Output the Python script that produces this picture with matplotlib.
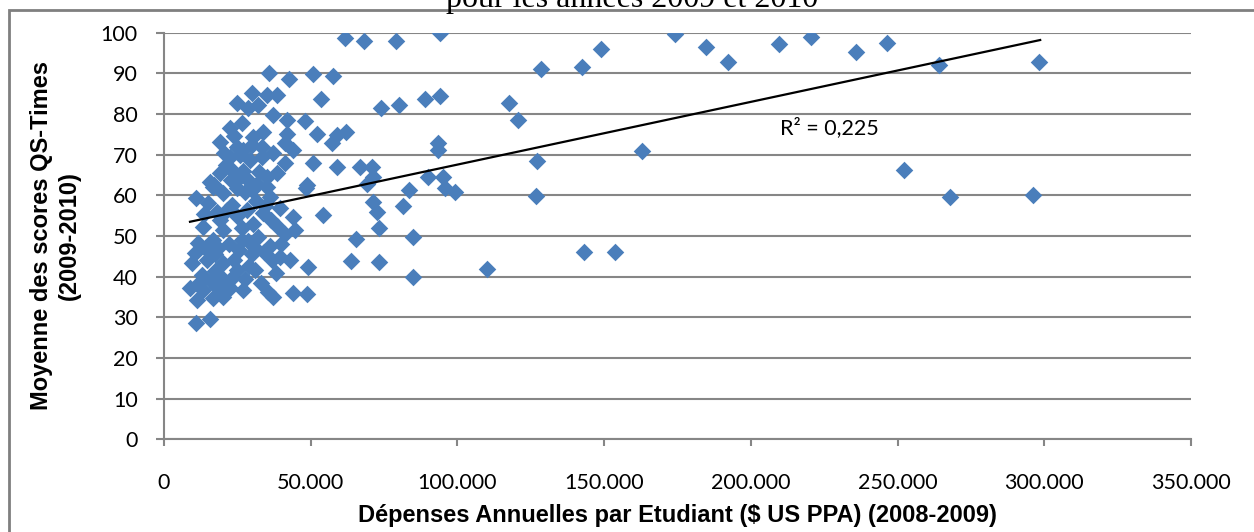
import numpy as np
import matplotlib
matplotlib.use("Agg")
import matplotlib.pyplot as plt
from matplotlib.ticker import FuncFormatter
from matplotlib.patches import Rectangle

# spending per student (thousands of $ US PPA) and mean QS-Times score
spend_k = [
    128.4, 142.3, 148.8, 174.0, 184.7, 192.3, 209.5, 220.4, 235.7, 246.5, 264.2, 298.3, 252.3, 267.9, 296.0,
    117.5, 120.5, 127.2, 126.8, 163.0, 143.1, 153.6,
    61.7, 68.3, 79.0, 94.2, 57.7, 73.9, 80.1, 88.8, 94.2, 61.9, 59.1, 57.1, 93.5, 93.5, 58.8, 66.8, 70.8,
    69.1, 71.3, 90.1, 95.2, 95.8, 99.2, 83.6, 81.6, 71.3, 72.7, 73.3, 65.4, 85.0, 63.7, 73.3, 85.0, 110.0,
    35.7, 42.6, 50.7, 53.4, 29.9, 35.0, 38.6, 24.8, 32.2, 28.7, 37.3, 41.8, 48.1, 22.5, 26.5, 52.0,
    19.1, 33.8, 41.8, 41.2, 44.1, 27.0, 30.4, 24.8, 22.5, 29.3, 33.3, 50.9, 41.2, 19.1, 15.7, 25.9,
    35.0, 48.6, 31.6,
    10.9, 48.4, 54.1, 16.8, 20.2, 24.8, 29.9, 35.0, 18.0, 23.1, 28.2, 33.8, 13.4, 20.2, 26.5, 32.2,
    44.1, 41.2, 44.6, 36.7, 42.9, 49.2, 11.7, 16.8, 10.6, 9.4, 14.6, 20.2, 24.8, 31.0, 8.9, 13.4,
    18.0, 22.5, 27.0, 11.1, 16.8, 20.2, 35.5, 37.3, 44.1, 48.6, 10.9, 15.7, 39.5,
    17.0, 23.0, 27.5, 32.5, 21.0, 26.0, 30.0, 24.0, 20.5,
    15.0, 19.0, 22.0, 25.5, 28.5, 30.5, 34.5, 17.5, 13.0, 16.0, 19.5, 27.5, 33.0, 38.0, 36.0, 30.0,
    12.0, 21.5, 14.0, 38.5, 40.0, 36.5,
    21.5, 25.0, 31.5, 27.0, 29.0, 23.5, 18.5, 24.0, 29.0, 34.0, 26.5, 31.0, 17.5, 23.0, 38.5, 37.0,
    33.5, 39.5, 36.0, 13.5,
]
score = [
    91.0, 91.6, 96.0, 99.7, 96.5, 92.9, 97.3, 99.0, 95.2, 97.4, 92.0, 92.7, 66.3, 59.7, 60.1,
    82.7, 78.5, 68.4, 59.9, 70.9, 46.0, 46.1,
    98.8, 98.0, 97.9, 100.0, 89.3, 81.4, 82.2, 83.7, 84.5, 75.6, 74.8, 72.8, 72.8, 71.1, 67.0, 67.0, 67.0,
    62.9, 64.6, 64.6, 64.6, 61.7, 60.7, 61.3, 57.4, 58.3, 56.0, 52.0, 49.2, 49.7, 43.9, 43.5, 40.0, 41.8,
    90.0, 88.6, 89.8, 83.8, 85.1, 84.7, 84.7, 82.6, 82.2, 81.4, 79.7, 78.5, 78.3, 76.5, 77.7, 75.2,
    73.2, 75.6, 75.2, 72.8, 71.1, 71.1, 74.4, 71.9, 69.5, 68.7, 69.5, 67.9, 67.9, 65.4, 63.3, 64.6,
    64.6, 62.5, 62.9,
    59.3, 61.7, 55.2, 62.1, 60.5, 61.7, 61.3, 62.1, 56.0, 57.6, 56.4, 55.6, 52.3, 51.5, 51.9, 49.8,
    54.7, 50.6, 51.5, 44.1, 44.1, 42.3, 48.2, 49.0, 45.7, 43.3, 44.1, 43.3, 41.6, 41.6, 37.1, 36.7,
    37.5, 37.1, 36.7, 34.2, 34.7, 35.1, 36.3, 35.1, 35.9, 35.7, 28.5, 29.5, 44.9,
    62.5, 63.8, 60.8, 65.8, 67.5, 70.0, 72.5, 74.5, 70.5,
    58.0, 54.0, 48.0, 46.5, 48.8, 53.0, 57.5, 45.5, 40.5, 39.0, 40.0, 39.5, 38.5, 41.0, 47.5, 45.5,
    38.5, 38.0, 47.0, 52.5, 48.0, 54.0,
    56.5, 55.0, 58.5, 66.0, 63.5, 66.0, 47.0, 44.0, 42.5, 46.0, 49.0, 47.0, 41.5, 39.5, 65.5, 70.5,
    72.0, 57.0, 59.5, 55.5,
]
# linear trend line as shown on the chart (ends)
trend_x = [8860, 298600]
trend_y = [53.5, 98.2]
r2_label = "R² = 0,225"
x_ticks = [0, 50000, 100000, 150000, 200000, 250000, 300000, 350000]
y_ticks = [0, 10, 20, 30, 40, 50, 60, 70, 80, 90, 100]

x = np.array(spend_k) * 1000
y = np.array(score)

font = ["Lato", "DejaVu Sans"]
bold_font = ["Liberation Sans", "DejaVu Sans"]
grey = "#868686"

fig = plt.figure(figsize=(12.54, 5.32), dpi=100)
ax = fig.add_axes([164 / 1254, 1 - 439.3 / 532, (1191 - 164) / 1254, (439.3 - 32.7) / 532])

ax.scatter(x, y, marker="D", s=80, color="#4a7ebb", linewidths=0, zorder=3)
ax.plot(trend_x, trend_y, color="black", lw=1.6, zorder=4)
ax.text(209900, 76.7, r2_label, family=font, fontsize=15.5, va="center", ha="left")

ax.set_xlim(0, 350000)
ax.set_ylim(0, 100)
ax.set_xticks(x_ticks)
ax.set_yticks(y_ticks)
ax.xaxis.set_major_formatter(FuncFormatter(lambda v, p: "{:,.0f}".format(v).replace(",", ".")))
ax.grid(axis="y", color=grey, lw=1.5)
ax.set_axisbelow(True)
for side in ["top", "right"]:
    ax.spines[side].set_visible(False)
for side in ["left", "bottom"]:
    ax.spines[side].set_color(grey)
    ax.spines[side].set_linewidth(1.5)
ax.tick_params(axis="y", direction="out", length=6, width=1.5, color=grey, pad=13)
ax.tick_params(axis="x", direction="out", length=5, width=1.5, color=grey, pad=19)
for lab in ax.get_xticklabels() + ax.get_yticklabels():
    lab.set_family(font)
    lab.set_fontsize(15.5)

ax.set_xlabel("Dépenses Annuelles par Etudiant ($ US PPA) (2008-2009)",
              family=bold_font, fontsize=17, fontweight="bold", labelpad=8)
ax.set_ylabel("Moyenne des scores QS-Times\n(2009-2010)",
              family=bold_font, fontsize=17, fontweight="bold", labelpad=14, linespacing=1.3)

# chart frame and the (cut off) caption above it
fig.patches.append(Rectangle((9 / 1254, -0.1), 1.2, 1 - 10 / 532 + 0.1, transform=fig.transFigure,
                             fill=False, edgecolor="#7f7f7f", lw=2))
fig.text(632 / 1254, 1 - 7 / 532, "pour les années 2009 et 2010", family="Liberation Serif",
         fontsize=23, ha="center", va="baseline")

fig.savefig("out.png", dpi=100)
